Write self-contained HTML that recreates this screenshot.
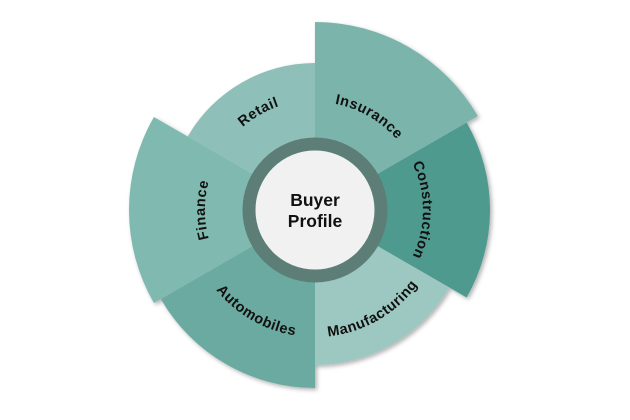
<!DOCTYPE html>
<html><head><style>
html,body{margin:0;padding:0;background:#fff;}
svg{display:block;}
text{font-family:"Liberation Sans",sans-serif;font-weight:bold;fill:#111;}
</style></head><body>
<svg width="630" height="420" viewBox="0 0 630 420">
<defs>
<filter id="sh" x="-20%" y="-20%" width="140%" height="140%">
<feDropShadow dx="2" dy="2" stdDeviation="2" flood-color="#000" flood-opacity="0.3"/>
</filter>
<path id="pRetail" d="M219.7,155 A110,110 0 0 1 315,100"/>
<path id="pIns" d="M315,102 A108,108 0 0 1 408.5,156"/>
<path id="pCon" d="M408.5,156 A108,108 0 0 1 408.5,264"/>
<path id="pFin" d="M219.7,265 A110,110 0 0 1 219.7,155"/>
<path id="pAuto" d="M205,273.5 A127,127 0 0 0 315,337"/>
<path id="pMan" d="M315,337 A127,127 0 0 0 425,273.5"/>
</defs>
<g filter="url(#sh)">
<path d="M315,210 L187.7,136.5 A147,147 0 0 1 315,63 Z" fill="#8ec0b9"/>
<path d="M315,210 L466.6,122.5 A175,175 0 0 1 466.6,297.5 Z" fill="#4f9a8f"/>
<path d="M315,210 L449.2,287.5 A155,155 0 0 1 315,365 Z" fill="#9dc7c1"/>
<path d="M315,210 L315,22 A188,188 0 0 1 477.8,116 Z" fill="#7ab4ab"/>
<path d="M315,210 L315,388 A178,178 0 0 1 160.8,299 Z" fill="#6aaaa0"/>
<path d="M315,210 L153.9,303 A186,186 0 0 1 153.9,117 Z" fill="#80b9b0"/>
</g>
<circle cx="315" cy="210" r="66" fill="none" stroke="#5d7d77" stroke-width="13"/>
<circle cx="315" cy="210" r="59.5" fill="#f1f1f1"/>
<text font-size="17.5" text-anchor="middle" x="315" y="206">Buyer</text>
<text font-size="17.5" text-anchor="middle" x="315" y="227">Profile</text>
<g font-size="14.5" letter-spacing="0.5">
<text><textPath href="#pRetail" startOffset="50%" text-anchor="middle">Retail</textPath></text>
<text><textPath href="#pIns" startOffset="50%" text-anchor="middle">Insurance</textPath></text>
<text><textPath href="#pCon" startOffset="50%" text-anchor="middle">Construction</textPath></text>
<text><textPath href="#pFin" startOffset="50%" text-anchor="middle">Finance</textPath></text>
<text><textPath href="#pAuto" startOffset="50%" text-anchor="middle">Automobiles</textPath></text>
<text><textPath href="#pMan" startOffset="50%" text-anchor="middle">Manufacturing</textPath></text>
</g>
</svg>
</body></html>
